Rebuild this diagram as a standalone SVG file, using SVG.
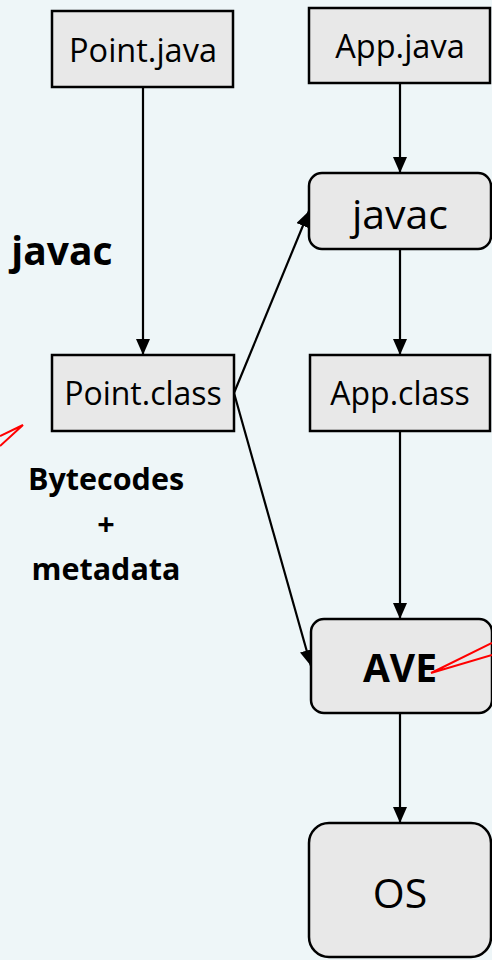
<svg xmlns="http://www.w3.org/2000/svg" width="492" height="960" viewBox="0 0 492 960">
  <style>
    .box { fill: #e8e8e8; stroke: #000; stroke-width: 2.5; }
    .lbl { font-family: "Open Sans", "Liberation Sans", sans-serif; fill: #000; text-anchor: middle; }
    .note { font-family: "Open Sans", "Liberation Sans", sans-serif; font-weight: bold; fill: #000; text-anchor: middle; }
    .edge { stroke: #000; stroke-width: 2.2; fill: none; marker-end: url(#arrow); }
    .red { stroke: #ff0000; stroke-width: 2; fill: none; }
  </style>
  <defs>
    <marker id="arrow" viewBox="0 0 16 14" refX="16" refY="7" markerWidth="16" markerHeight="14" orient="auto" markerUnits="userSpaceOnUse">
      <path d="M0,0 L16,7 L0,14 Z" fill="#000"/>
    </marker>
  </defs>

  <rect width="492" height="960" fill="#eef6f8"/>

  <!-- connectors -->
  <g id="connectors">
    <line class="edge" x1="143" y1="87" x2="143" y2="355"/>
    <line class="edge" x1="400" y1="83" x2="400" y2="173"/>
    <line class="edge" x1="400" y1="249" x2="400" y2="355"/>
    <line class="edge" x1="400" y1="431" x2="400" y2="619"/>
    <line class="edge" x1="400" y1="713" x2="400" y2="823"/>
    <line class="edge" x1="234" y1="393" x2="309" y2="211"/>
    <line class="edge" x1="234" y1="393" x2="311" y2="666"/>
  </g>

  <g id="point-java">
    <rect class="box" x="52" y="11" width="181" height="76"/>
    <text class="lbl" x="143" y="62" font-size="32.5">Point.java</text>
  </g>

  <g id="app-java">
    <rect class="box" x="309" y="8" width="181" height="75"/>
    <text class="lbl" x="400" y="58" font-size="32.5">App.java</text>
  </g>

  <g id="javac">
    <rect class="box" x="309" y="173" width="182" height="76" rx="13"/>
    <text class="lbl" x="400" y="229" font-size="41">javac</text>
  </g>

  <g id="point-class">
    <rect class="box" x="52" y="355" width="182" height="76"/>
    <text class="lbl" x="143" y="405" font-size="32">Point.class</text>
  </g>

  <g id="app-class">
    <rect class="box" x="310" y="355" width="180" height="76"/>
    <text class="lbl" x="400" y="405" font-size="32">App.class</text>
  </g>

  <g id="ave">
    <rect class="box" x="311" y="619" width="181" height="94" rx="13"/>
    <text class="note" x="400" y="682" font-size="39">AVE</text>
  </g>

  <g id="os">
    <rect class="box" x="309" y="823" width="182" height="134" rx="20"/>
    <text class="lbl" x="400" y="908" font-size="41">OS</text>
  </g>

  <!-- free labels -->
  <text class="note" x="62" y="265" font-size="39">javac</text>
  <text class="note" x="106" y="490" font-size="30.5">Bytecodes</text>
  <text class="note" x="106" y="535" font-size="30.5">+</text>
  <text class="note" x="106" y="580" font-size="30.5">metadata</text>

  <!-- red callout pointers -->
  <polyline class="red" points="0,436 23,425 0,446"/>
  <polyline class="red" points="492,643 431,673 492,655"/>
</svg>
